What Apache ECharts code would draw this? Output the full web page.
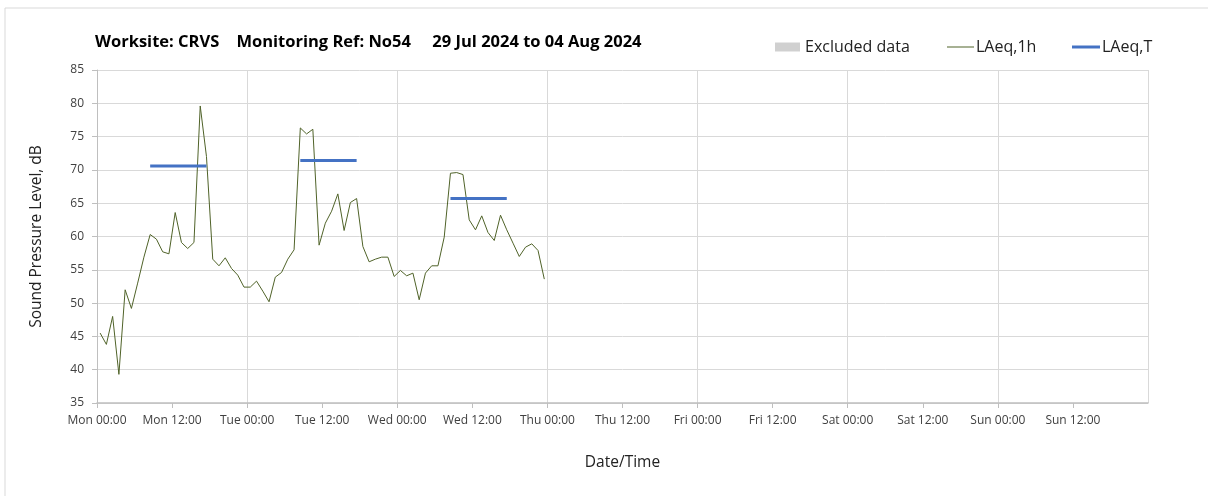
<!DOCTYPE html>
<html>
<head>
<meta charset="utf-8">
<script src="https://cdn.jsdelivr.net/npm/echarts@6/dist/echarts.min.js"></script>
<style>
  html, body { margin: 0; padding: 0; background: #fff; }
</style>
</head>
<body>
<div id="chart" style="width: 1208px; height: 496px;"></div>
<script>
// hourly LAeq,1h values, first point at Mon 00:30
const firstHour = 0.5;
const laeq1h = [
  45.5, 43.8, 48.0, 39.3, 52.0, 49.2, 53.0, 56.9, 60.3, 59.6, 57.7, 57.4,
  63.6, 59.1, 58.2, 59.1, 79.6, 72.0, 56.6, 55.6, 56.8, 55.2, 54.2, 52.4,
  52.4, 53.3, 51.8, 50.2, 53.9, 54.6, 56.6, 58.0, 76.3, 75.4, 76.1, 58.7,
  62.0, 63.8, 66.4, 60.9, 65.1, 65.7, 58.5, 56.2, 56.6, 56.9, 56.9, 54.0,
  54.9, 54.1, 54.5, 50.5, 54.5, 55.6, 55.6, 59.9, 69.5, 69.6, 69.3, 62.5,
  61.0, 63.1, 60.6, 59.4, 63.2, 61.0, 59.0, 57.0, 58.4, 58.9, 57.9, 53.6
];

// LAeq,T daytime periods (hours from Mon 00:00)
const periodStart = [8.5, 32.5, 56.5];
const periodEnd = [17.5, 41.5, 65.5];
const periodLevel = [70.6, 71.4, 65.7];

const dayNames = ['Mon', 'Tue', 'Wed', 'Thu', 'Fri', 'Sat', 'Sun'];
const yMin = 35, yMax = 85, yStep = 5;

const chart = echarts.init(document.getElementById('chart'));

const lineData = laeq1h.map((v, i) => [firstHour + i, v]);
const periodData = [];
periodStart.forEach((s, i) => {
  periodData.push([s, periodLevel[i]]);
  periodData.push([periodEnd[i], periodLevel[i]]);
  periodData.push([periodEnd[i], '-']);
});

const fontFam = 'Open Sans, sans-serif';
const gridColor = '#d9d9d9';

const option = {
  animation: false,
  textStyle: { fontFamily: fontFam },
  graphic: [{
    type: 'rect',
    shape: { x: 5, y: 8, width: 1300, height: 600 },
    style: { fill: 'none', stroke: '#d9d9d9', lineWidth: 1 },
    silent: true
  }],
  title: {
    text: 'Worksite: CRVS    Monitoring Ref: No54     29 Jul 2024 to 04 Aug 2024',
    left: 90,
    top: 29,
    textStyle: { fontSize: 16.5, fontWeight: 'bold', color: '#000', fontFamily: fontFam }
  },
  legend: [
    {
      data: [{ name: 'Excluded data', icon: 'rect' }],
      left: 770, top: 34, itemWidth: 25, itemHeight: 9, itemGap: 4,
      textStyle: { fontSize: 16, color: '#222', fontFamily: fontFam }
    },
    {
      data: [{ name: 'LAeq,1h', icon: 'rect' }],
      left: 942, top: 34, itemWidth: 27, itemHeight: 1, itemGap: 2,
      textStyle: { fontSize: 16, color: '#222', fontFamily: fontFam, padding: [0, 0, 0, -3] }
    },
    {
      data: [{ name: 'LAeq,T', icon: 'rect' }],
      left: 1067, top: 34, itemWidth: 28, itemHeight: 3, itemGap: 2,
      textStyle: { fontSize: 16, color: '#222', fontFamily: fontFam, padding: [0, 0, 0, -3] }
    }
  ],
  grid: { left: 97, right: 60, top: 70, bottom: 93, containLabel: false },
  xAxis: [
    {
      type: 'value', min: 0, max: 168, interval: 12,
      name: 'Date/Time', nameLocation: 'middle', nameGap: 52,
      nameTextStyle: { fontSize: 15.5, color: '#222', fontFamily: fontFam },
      axisLine: { lineStyle: { color: '#bfbfbf', width: 1.5 } },
      axisTick: { show: true, length: 5, lineStyle: { color: '#bfbfbf' } },
      axisLabel: {
        fontSize: 12, color: '#404040', margin: 12, showMaxLabel: false,
        formatter: function (v) {
          if (v >= 168) return '';
          const d = Math.floor(v / 24);
          const h = v % 24;
          return dayNames[d] + ' ' + (h === 0 ? '00:00' : '12:00');
        }
      },
      splitLine: { show: false }
    },
    {
      type: 'value', min: 0, max: 168, interval: 24,
      axisLine: { show: false }, axisTick: { show: false }, axisLabel: { show: false },
      splitLine: { show: true, lineStyle: { color: gridColor, width: 1 } }
    }
  ],
  yAxis: {
    type: 'value', min: yMin, max: yMax, interval: yStep,
    name: 'Sound Pressure Level, dB', nameLocation: 'middle', nameGap: 52,
    nameTextStyle: { fontSize: 15.5, color: '#222', fontFamily: fontFam },
    axisLine: { show: true, lineStyle: { color: '#bfbfbf' } },
    axisTick: { show: true, length: 5, lineStyle: { color: '#bfbfbf' } },
    axisLabel: { fontSize: 12, color: '#404040', margin: 13 },
    splitLine: { show: true, lineStyle: { color: gridColor, width: 1 } }
  },
  series: [
    {
      name: 'Excluded data', type: 'bar', data: [],
      itemStyle: { color: '#d0d0d0' }
    },
    {
      name: 'LAeq,1h', type: 'line', data: lineData,
      symbol: 'none', itemStyle: { color: '#4f6228' },
      lineStyle: { color: '#4f6228', width: 1 }, z: 3
    },
    {
      name: 'LAeq,T', type: 'line', data: periodData,
      symbol: 'none', connectNulls: false, itemStyle: { color: '#4472c4' },
      lineStyle: { color: '#4472c4', width: 3 }, z: 4
    }
  ]
};

chart.setOption(option);
</script>
</body>
</html>
